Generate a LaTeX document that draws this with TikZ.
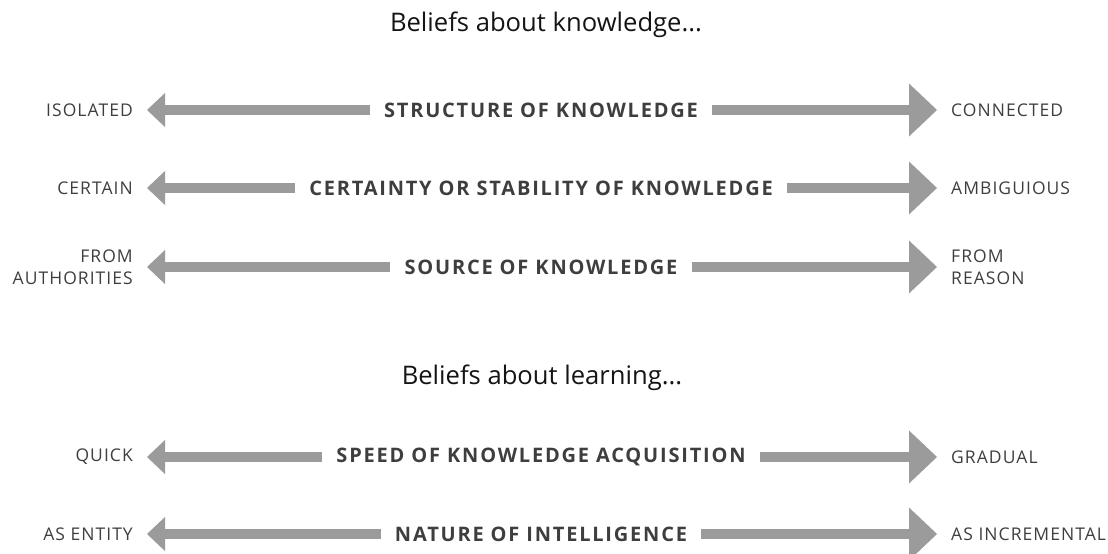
\documentclass[tikz,border=0pt]{standalone}
\usepackage{fontspec}
\setmainfont{Open Sans}
\newfontfamily\capsfont[LetterSpace=6]{Open Sans}
\newfontfamily\dimfont[LetterSpace=9]{Open Sans}
\usetikzlibrary{arrows.meta,positioning}

\definecolor{shaft}{HTML}{9B9B9B}
\definecolor{ink}{HTML}{3E3E3E}

\begin{document}
\begin{tikzpicture}[x=1pt,y=-1pt,node distance=14pt,
 head/.style={font=\fontsize{25.6}{30}\selectfont,text=black!92,anchor=base,inner sep=0pt},
 dim/.style={font=\dimfont\bfseries\fontsize{20}{24}\selectfont,text=ink,inner xsep=14pt,inner ysep=0pt},
 lab/.style={font=\capsfont\fontsize{17.5}{22}\selectfont,text=ink,inner sep=0pt},
 lft/.style={lab,align=right},
 rgt/.style={lab,align=left},
 toleft/.style={line width=9.5pt,color=shaft,-{Triangle[length=18pt,width=34pt,line width=0pt]}},
 toright/.style={line width=9.5pt,color=shaft,-{Triangle[length=28pt,width=53pt,line width=0pt]}}]
\useasboundingbox (0,0) rectangle (1108,554);

% knowledge
\node[head] (know) at (546,31) {Beliefs about knowledge...};

\node[dim] (struct) at (541,110) {STRUCTURE OF KNOWLEDGE};
\coordinate (s-l) at (147,110);
\coordinate (s-r) at (937,110);
\node[lft,left=of s-l] (isol) {ISOLATED};
\node[rgt,right=of s-r] (conn) {CONNECTED};
\draw[toleft] (struct.west) -- (s-l);
\draw[toright] (struct.east) -- (s-r);

\node[dim] (cert) at (541,188) {CERTAINTY OR STABILITY OF KNOWLEDGE};
\coordinate (c-l) at (147,188);
\coordinate (c-r) at (937,188);
\node[lft,left=of c-l] (certain) {CERTAIN};
\node[rgt,right=of c-r] (ambig) {AMBIGUIOUS};
\draw[toleft] (cert.west) -- (c-l);
\draw[toright] (cert.east) -- (c-r);

\node[dim] (source) at (541,267) {SOURCE OF KNOWLEDGE};
\coordinate (o-l) at (147,267);
\coordinate (o-r) at (937,267);
\node[lft,left=of o-l] (auth) {FROM\\AUTHORITIES};
\node[rgt,right=of o-r] (reason) {FROM\\REASON};
\draw[toleft] (source.west) -- (o-l);
\draw[toright] (source.east) -- (o-r);

% learning
\node[head] (learn) at (542,384) {Beliefs about learning...};

\node[dim] (speed) at (541,457) {SPEED OF KNOWLEDGE ACQUISITION};
\coordinate (p-l) at (147,457);
\coordinate (p-r) at (937,457);
\node[lft,left=of p-l] (quick) {QUICK};
\node[rgt,right=of p-r] (grad) {GRADUAL};
\draw[toleft] (speed.west) -- (p-l);
\draw[toright] (speed.east) -- (p-r);

\node[dim] (intel) at (541,534) {NATURE OF INTELLIGENCE};
\coordinate (n-l) at (147,534);
\coordinate (n-r) at (937,534);
\node[lft,left=of n-l] (entity) {AS ENTITY};
\node[rgt,right=of n-r] (incr) {AS INCREMENTAL};
\draw[toleft] (intel.west) -- (n-l);
\draw[toright] (intel.east) -- (n-r);
\end{tikzpicture}
\end{document}
